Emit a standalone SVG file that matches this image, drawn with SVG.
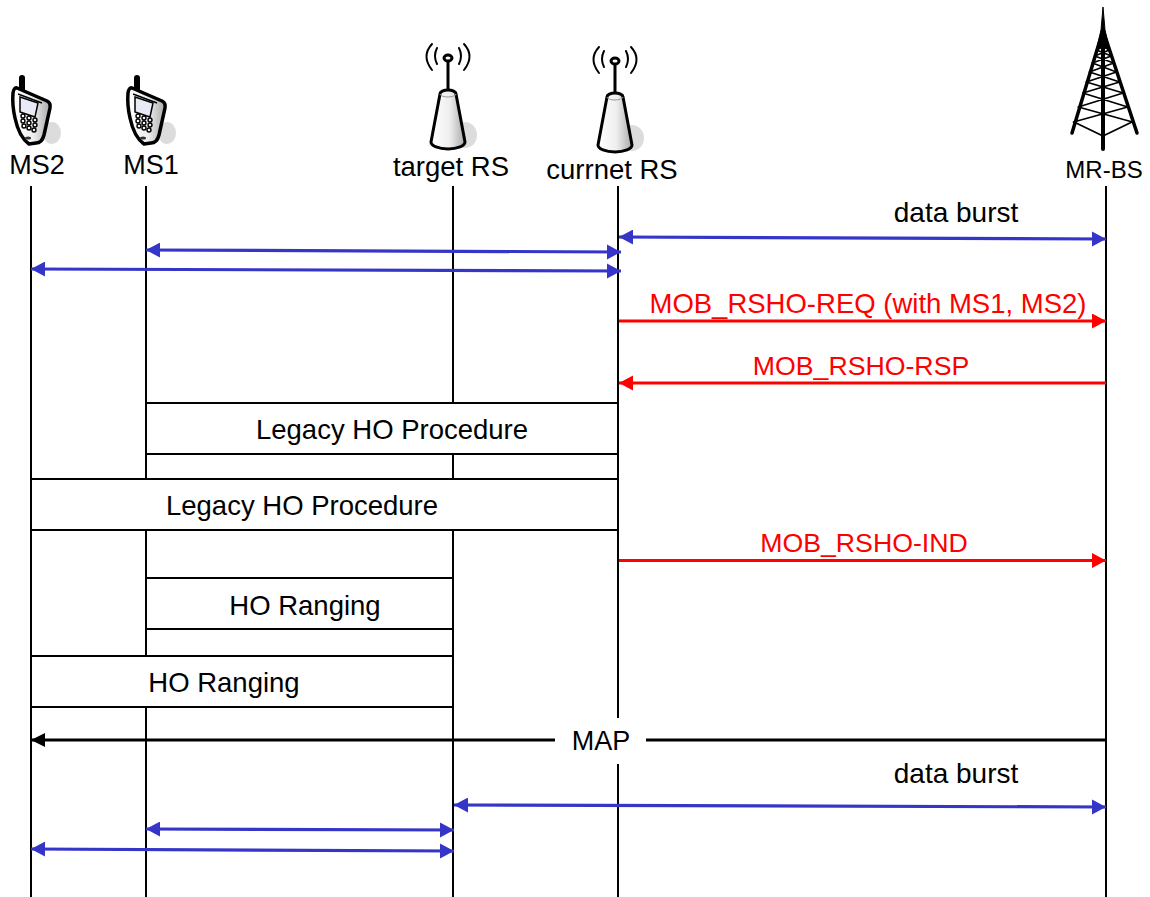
<svg xmlns="http://www.w3.org/2000/svg" width="1150" height="897" viewBox="0 0 1150 897">
<style>
text{font-family:"Liberation Sans",Arial,sans-serif;font-size:27.500px;fill:#000}
.r{fill:#f00}
.t{font-size:26.700px}
.d{font-size:28px}
.m{font-size:27px}
.s{font-size:24px}
.life{stroke:#000;stroke-width:2;fill:none}
.box{fill:#fff;stroke:#000;stroke-width:2}
.blue{stroke:#3535c8;stroke-width:3.200;fill:none;marker-start:url(#bs);marker-end:url(#be)}
.red{stroke:#f00;stroke-width:3.200;fill:none;marker-end:url(#re)}
.black{stroke:#000;stroke-width:3.200;fill:none}
.ink{fill:none;stroke:#000;stroke-linecap:round;stroke-linejoin:round}
.shadow{fill:#dcdcdc}
</style>
<defs>
<marker id="be" markerUnits="userSpaceOnUse" markerWidth="15" markerHeight="16" refX="14" refY="7.500" orient="auto"><path d="M0 0L14 7.500L0 15z" fill="#3535c8"/></marker>
<marker id="bs" markerUnits="userSpaceOnUse" markerWidth="15" markerHeight="16" refX="0" refY="7.500" orient="auto"><path d="M14 0L0 7.500L14 15z" fill="#3535c8"/></marker>
<marker id="re" markerUnits="userSpaceOnUse" markerWidth="15" markerHeight="16" refX="14" refY="7.500" orient="auto"><path d="M0 0L14 7.500L0 15z" fill="#f00"/></marker>
<linearGradient id="g" x1="0" x2="1" y1="0" y2="0"><stop offset="0" stop-color="#fff"/><stop offset=".55" stop-color="#eee"/><stop offset="1" stop-color="#a8a8a8"/></linearGradient>
<g id="phone">
<ellipse class="shadow" cx="52" cy="133" rx="9" ry="11"/>
<path class="ink" stroke-width="6" d="M22 91V78"/>
<path d="M17 88L47 101Q51 103 50 108L44 135Q42 143 36 143L29 144Q19 137 15 118Q12 105 13 93Q14 87 17 88z" fill="url(#g)" stroke="#000" stroke-width="3.500" stroke-linejoin="round"/>
<path d="M18 94L42 103" stroke="#000" stroke-width="1.500" fill="none"/>
<path d="M20 97L38 103L35 117L20 112z" fill="#e8eaf5" stroke="#000" stroke-width="1.500"/>
<g fill="none" stroke="#000" stroke-width="1.400"><circle cx="23" cy="116" r="2"/><circle cx="29" cy="118" r="2"/><circle cx="35" cy="120" r="2"/><circle cx="23" cy="121" r="2"/><circle cx="29" cy="123" r="2"/><circle cx="35" cy="125" r="2"/><circle cx="24" cy="126" r="2"/><circle cx="29" cy="128" r="2"/><circle cx="34" cy="130" r="2"/></g>
<ellipse cx="28" cy="138" rx="3" ry="1.500" fill="#333"/>
</g>
<g id="rs">
<ellipse class="shadow" cx="17" cy="77" rx="12" ry="13"/>
<path class="ink" stroke-width="2" d="M-11 6Q-15 -2-11 -10M11 6Q15 -2 11 -10M-16 12Q-27 -2-16 -14M16 12Q27 -2 16 -14"/>
<path class="ink" stroke-width="3" d="M0 0V32"/>
<ellipse cx="0" cy="0" rx="4" ry="3" fill="#fff" stroke="#000" stroke-width="3"/>
<path d="M-8 36A8 4 0 0 1 8 36L17 84A17 7 0 0 1-17 84z" fill="url(#g)" stroke="#000" stroke-width="3" stroke-linejoin="round"/>
<path d="M-8 36A8 3 0 0 0 8 36" fill="none" stroke="#999" stroke-width="1"/>
</g>
</defs>

<g id="connectors">
<path class="life" d="M31 186V897M146 186V897M453 186V897M618 186V897M1106 186V897"/>
<path class="blue" d="M619 237L1106 239"/>
<path class="blue" d="M146 250L621 252"/>
<path class="blue" d="M31 269L621 271"/>
<path class="red" d="M619 321H1106"/>
<path class="red" d="M1106 383H619"/>
<path class="red" d="M619 560.500H1106"/>
<path class="black" d="M1106 740H31"/>
<path d="M31 740L45 733V747z" fill="#000"/>
<path class="blue" d="M454 805L1106 807"/>
<path class="blue" d="M146 829L454 830"/>
<path class="blue" d="M31 849L454 851"/>
</g>

<g id="MS2"><use href="#phone"/><text class="m" x="37" y="174" text-anchor="middle">MS2</text></g>
<g id="MS1"><use href="#phone" transform="translate(115 0)"/><text class="m" x="151" y="174" text-anchor="middle">MS1</text></g>
<g id="target-RS"><use href="#rs" transform="translate(448 58)"/><text x="451" y="176" text-anchor="middle">target RS</text></g>
<g id="current-RS"><use href="#rs" transform="translate(615 61)"/><text x="612" y="179" text-anchor="middle">currnet RS</text></g>
<g id="MR-BS">
<path d="M1103 7L1105 30L1109 48L1097 48L1101 30z" fill="#000" stroke="#000" stroke-width="1"/>
<g class="ink">
<path stroke-width="4" d="M1103 40V149"/>
<path stroke-width="3.500" d="M1103 30L1072 133M1103 30L1137 133"/>
<path stroke-width="1.800" d="M1074 122L1103 136L1132 122M1073.500 122L1127.700 107M1132.500 122L1078.300 107M1078.300 107L1123.200 93M1127.700 107L1082.800 93M1082.800 93L1119.700 82M1123.200 93L1086.300 82M1086.300 82L1116.500 72M1119.700 82L1089.500 72M1089.500 72L1113.600 63M1116.500 72L1092.400 63M1092.400 63L1111.300 56M1113.600 63L1094.700 56M1094.700 56L1109.400 50M1111.300 56L1096.600 50M1096.600 50L1107.500 44M1109.400 50L1098.500 44"/>
</g>
<text class="s" x="1104" y="178" text-anchor="middle">MR-BS</text>
</g>

<g id="data-burst-1"><text class="d" x="956" y="222" text-anchor="middle">data burst</text></g>
<g id="req"><text class="r" x="868" y="313" text-anchor="middle">MOB_RSHO-REQ (with MS1, MS2)</text></g>
<g id="rsp"><text class="r t" x="861" y="375" text-anchor="middle">MOB_RSHO-RSP</text></g>
<g id="ho1"><rect class="box" x="146" y="403" width="472" height="51"/><text x="392" y="439" text-anchor="middle">Legacy HO Procedure</text></g>
<g id="ho2"><rect class="box" x="31" y="479" width="587" height="51"/><text x="302" y="515" text-anchor="middle">Legacy HO Procedure</text></g>
<g id="ind"><text class="r t" x="864" y="552" text-anchor="middle">MOB_RSHO-IND</text></g>
<g id="rng1"><rect class="box" x="146" y="578" width="307" height="51"/><text x="305" y="615" text-anchor="middle">HO Ranging</text></g>
<g id="rng2"><rect class="box" x="31" y="656" width="422" height="51"/><text x="224" y="692" text-anchor="middle">HO Ranging</text></g>
<g id="map"><rect x="555" y="718" width="91" height="46" fill="#fff"/><text class="m" x="601" y="750" text-anchor="middle">MAP</text></g>
<g id="data-burst-2"><text class="d" x="956" y="783" text-anchor="middle">data burst</text></g>
</svg>
